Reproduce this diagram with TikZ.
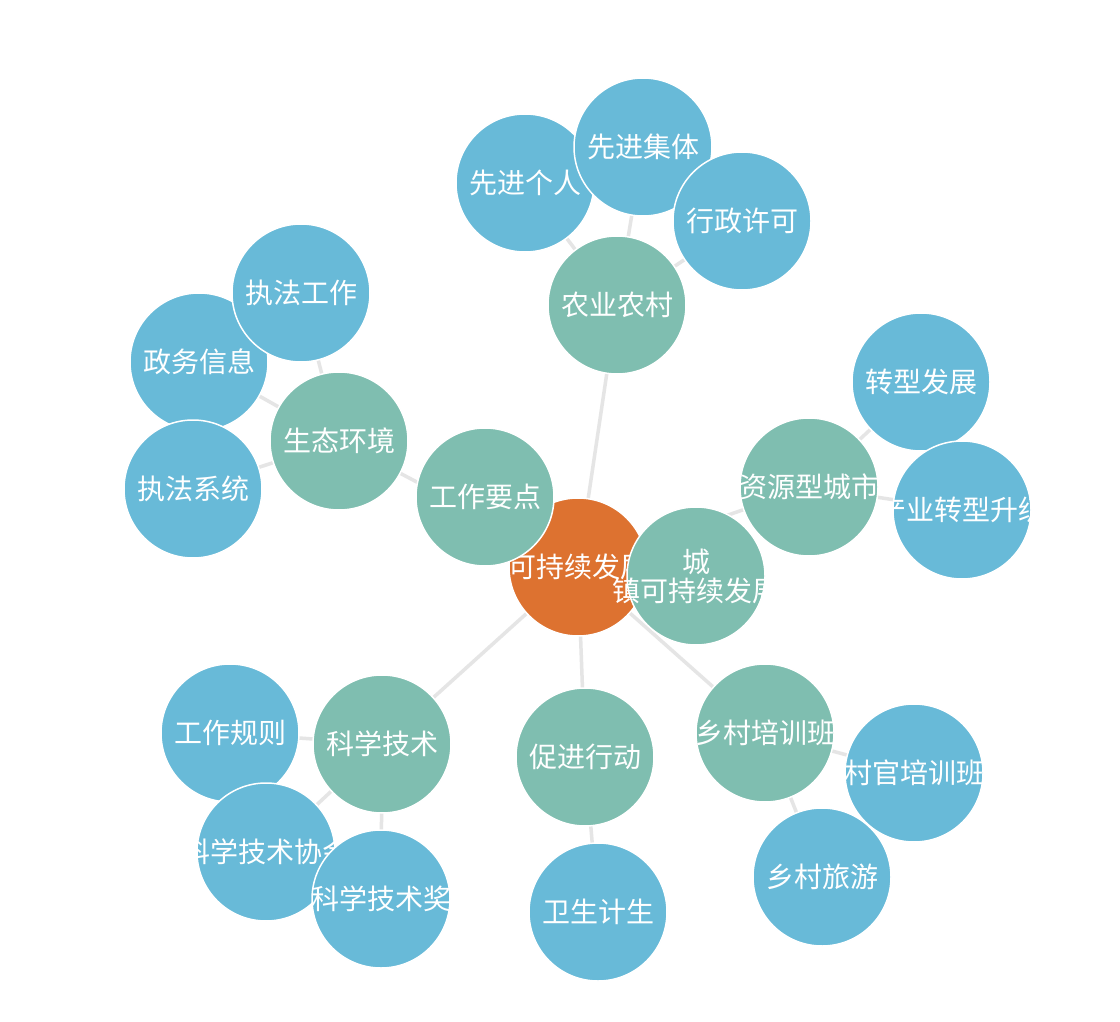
\documentclass[tikz,border=0pt]{standalone}
\usepackage{fontspec}
\newfontfamily\cjk{Noto Sans CJK SC}
\usetikzlibrary{backgrounds}
\definecolor{hubclr}{RGB}{221,114,48}
\definecolor{midclr}{RGB}{127,190,176}
\definecolor{leafclr}{RGB}{104,186,216}
\definecolor{linkclr}{RGB}{229,229,229}

\begin{document}
\begin{tikzpicture}[x=1pt, y=-1pt,
    bubtext/.style={text=white, inner sep=0pt, align=center,
        font=\cjk\fontsize{28}{29}\selectfont},
    bub/.style={circle, minimum size=138pt, inner sep=0pt, draw=white, line width=1.5pt,
        path picture={\node[bubtext] at (path picture bounding box.center) {#1};}},
    hubbub/.style={bub={#1}, fill=hubclr},
    midbub/.style={bub={#1}, fill=midclr},
    leafbub/.style={bub={#1}, fill=leafclr},
    linkline/.style={draw=linkclr, line width=3.5pt}]

    \useasboundingbox (0,0) rectangle (1120,1022);

    % centre and first ring
    \node[hubbub=可持续发展] (kcx) at (578,567) {};
    \node[midbub=农业农村] (nync) at (617,305) {};
    \node[midbub=生态环境] (stjh) at (339,441) {};
    \node[midbub=资源型城市] (zyx) at (809,487) {};
    \node[midbub=科学技术] (kxjs) at (382,744) {};
    \node[midbub=促进行动] (cjxd) at (585,757) {};
    \node[midbub=乡村培训班] (xcpx) at (765,733) {};

    % outer ring
    \node[leafbub=先进个人] (xjgr) at (525,183) {};
    \node[leafbub=先进集体] (xjjt) at (643,147) {};
    \node[leafbub=行政许可] (xzxk) at (742,221) {};
    \node[leafbub=政务信息] (zwxx) at (199,362) {};
    \node[leafbub=执法工作] (zfgz) at (301,293) {};
    \node[leafbub=执法系统] (zfxt) at (193,489) {};
    \node[leafbub=转型发展] (zxfz) at (921,382) {};
    \node[leafbub=产业转型升级] (cyzx) at (962,510) {};
    \node[leafbub=工作规则] (gzgz) at (230,733) {};
    \node[leafbub=科学技术协会] (kxxh) at (266,852) {};
    \node[leafbub=科学技术奖] (kxjj) at (381,899) {};
    \node[leafbub=卫生计生] (wsjs) at (598,912) {};
    \node[leafbub=村官培训班] (cgpx) at (914,773) {};
    \node[leafbub=乡村旅游] (xcly) at (822,877) {};

    \node[midbub=工作要点] (gzyd) at (485,497) {};
    \node[midbub={}] (czkc) at (696,576) {};
    % its label runs out on the left, cut only on the right
    \begin{scope}
        \clip (590,530) rectangle (764,620);
        \node[bubtext] (czkctxt) at (czkc) {城\\镇可持续发展};
    \end{scope}

    % links go under the circles
    \begin{scope}[on background layer]
        \fill[white] (0,0) rectangle (1120,1022);
        \foreach \a/\b in {kcx/nync, kcx/stjh, kcx/zyx, kcx/kxjs, kcx/cjxd, kcx/xcpx,
                kcx/gzyd, kcx/czkc,
                nync/xjgr, nync/xjjt, nync/xzxk,
                stjh/zfgz, stjh/zwxx, stjh/zfxt,
                zyx/zxfz, zyx/cyzx,
                kxjs/gzgz, kxjs/kxxh, kxjs/kxjj,
                cjxd/wsjs,
                xcpx/cgpx, xcpx/xcly}
            \draw[linkline] (\a.center) -- (\b.center);
    \end{scope}
\end{tikzpicture}
\end{document}
